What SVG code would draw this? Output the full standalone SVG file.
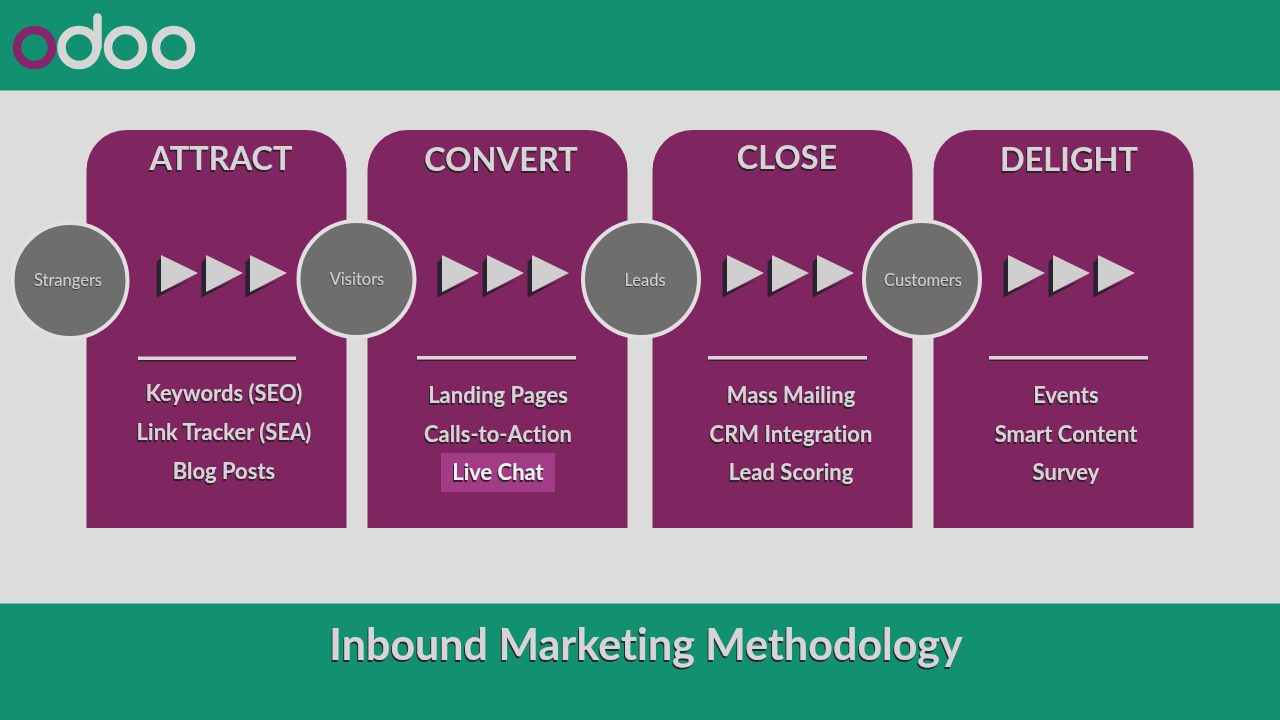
<svg xmlns="http://www.w3.org/2000/svg" width="1280" height="720" viewBox="0 0 1280 720">
  <style>
    text { font-family: Lato, "Open Sans", sans-serif; text-anchor: middle; fill: #d6d4d6; font-variant-ligatures: none; font-weight: 700; }
    .head { font-size: 32.500px; filter: url(#lift); }
    .item { font-size: 22px; filter: url(#lift); }
    .stage { font-size: 16.500px; font-weight: 400; filter: url(#liftSmall); fill: #cfcfcf; }
    .title { font-size: 43px; filter: url(#lift); }
    .panel { fill: #7f2660; }
    .rule { fill: #dcd4da; }
    .rule-under { fill: #3a1a30; }
    .disc { fill: #6e6e6e; stroke: #e2dee2; stroke-width: 4; }
    .tip { fill: #cfcfcf; }
    .tail { fill: #2a2230; }
    .ring { fill: none; stroke: #d6d6d6; stroke-width: 8.500; }
  </style>
  <defs>
    <filter id="lift" x="-10%" y="-30%" width="120%" height="170%">
      <feDropShadow dx="-1" dy="2" stdDeviation="0.7" flood-color="#2a1a28" flood-opacity="0.95"/>
    </filter>
    <filter id="liftSmall" x="-10%" y="-60%" width="120%" height="220%">
      <feDropShadow dx="-0.5" dy="1" stdDeviation="0.5" flood-color="#2a2a2a" flood-opacity="0.8"/>
    </filter>
    <g id="arrow">
      <path class="tail" d="M-4.500 7V42.500L30 24.500L0 37V3Z"/>
      <path class="tip" d="M0 0L37 18L0 37Z"/>
    </g>
  </defs>

  <rect width="1280" height="720" fill="#dcdcdc"/>
  <rect width="1280" height="90.500" fill="#129170"/>
  <rect y="603.500" width="1280" height="116.500" fill="#129170"/>

  <g id="logo">
    <circle cx="34.500" cy="47.500" r="17.500" fill="none" stroke="#86256b" stroke-width="8.500"/>
    <circle class="ring" cx="79" cy="47.500" r="17.500"/>
    <path class="ring" d="M97.500 47V17.500" stroke-linecap="round"/>
    <circle class="ring" cx="125.500" cy="47.500" r="17.500"/>
    <circle class="ring" cx="173.500" cy="47.500" r="17.500"/>
  </g>

  <g id="attract">
    <path class="panel" d="M86.500 528V170a40 40 0 0 1 40-40h180a40 40 0 0 1 40 40V528Z"/>
    <text class="head" x="221" y="169.500">ATTRACT</text>
    <rect class="rule-under" x="138" y="360" width="158" height="1.500"/>
    <rect class="rule" x="138" y="356.500" width="158" height="3.500"/>
    <text class="item" x="224" y="401">Keywords (SEO)</text>
    <text class="item" x="224" y="440">Link Tracker (SEA)</text>
    <text class="item" x="224" y="479">Blog Posts</text>
  </g>
  <g id="convert">
    <path class="panel" d="M367.500 528V170a40 40 0 0 1 40-40h180a40 40 0 0 1 40 40V528Z"/>
    <text class="head" x="501" y="170.500">CONVERT</text>
    <rect class="rule-under" x="417" y="359.500" width="159" height="1.500"/>
    <rect class="rule" x="417" y="356" width="159" height="3.500"/>
    <text class="item" x="498" y="403">Landing Pages</text>
    <text class="item" x="498" y="441.500">Calls-to-Action</text>
    <rect x="441" y="453" width="114" height="39" fill="#a13c85"/>
    <text class="item" x="498" y="480" style="fill:#f2f2f2">Live Chat</text>
  </g>
  <g id="close">
    <path class="panel" d="M652.500 528V170a40 40 0 0 1 40-40h180a40 40 0 0 1 40 40V528Z"/>
    <text class="head" x="787" y="168.500">CLOSE</text>
    <rect class="rule-under" x="708" y="359.500" width="159" height="1.500"/>
    <rect class="rule" x="708" y="356" width="159" height="3.500"/>
    <text class="item" x="791" y="403">Mass Mailing</text>
    <text class="item" x="791" y="441.500">CRM Integration</text>
    <text class="item" x="791" y="480">Lead Scoring</text>
  </g>
  <g id="delight">
    <path class="panel" d="M933.500 528V170a40 40 0 0 1 40-40h180a40 40 0 0 1 40 40V528Z"/>
    <text class="head" x="1069" y="170.500">DELIGHT</text>
    <rect class="rule-under" x="989" y="359.500" width="159" height="1.500"/>
    <rect class="rule" x="989" y="356" width="159" height="3.500"/>
    <text class="item" x="1066" y="403">Events</text>
    <text class="item" x="1066" y="441.500">Smart Content</text>
    <text class="item" x="1066" y="480">Survey</text>
  </g>

  <g id="connectors">
    <use href="#arrow" x="161" y="255"/>
    <use href="#arrow" x="206" y="255"/>
    <use href="#arrow" x="250" y="255"/>
    <use href="#arrow" x="442" y="255"/>
    <use href="#arrow" x="487" y="255"/>
    <use href="#arrow" x="532" y="255"/>
    <use href="#arrow" x="727" y="255"/>
    <use href="#arrow" x="772" y="255"/>
    <use href="#arrow" x="817" y="255"/>
    <use href="#arrow" x="1008" y="255"/>
    <use href="#arrow" x="1053" y="255"/>
    <use href="#arrow" x="1098" y="255"/>
  </g>

  <g id="strangers">
    <circle class="disc" cx="70" cy="280.500" r="57.500"/>
    <text class="stage" x="68" y="286">Strangers</text>
  </g>
  <g id="visitors">
    <circle class="disc" cx="356.500" cy="279" r="58"/>
    <text class="stage" x="357" y="285">Visitors</text>
  </g>
  <g id="leads">
    <circle class="disc" cx="641" cy="279" r="58"/>
    <text class="stage" x="645" y="285.500">Leads</text>
  </g>
  <g id="customers">
    <circle class="disc" cx="922" cy="279" r="58"/>
    <text class="stage" x="923" y="285.500">Customers</text>
  </g>

  <text id="caption" class="title" x="646" y="660">Inbound Marketing Methodology</text>
</svg>
